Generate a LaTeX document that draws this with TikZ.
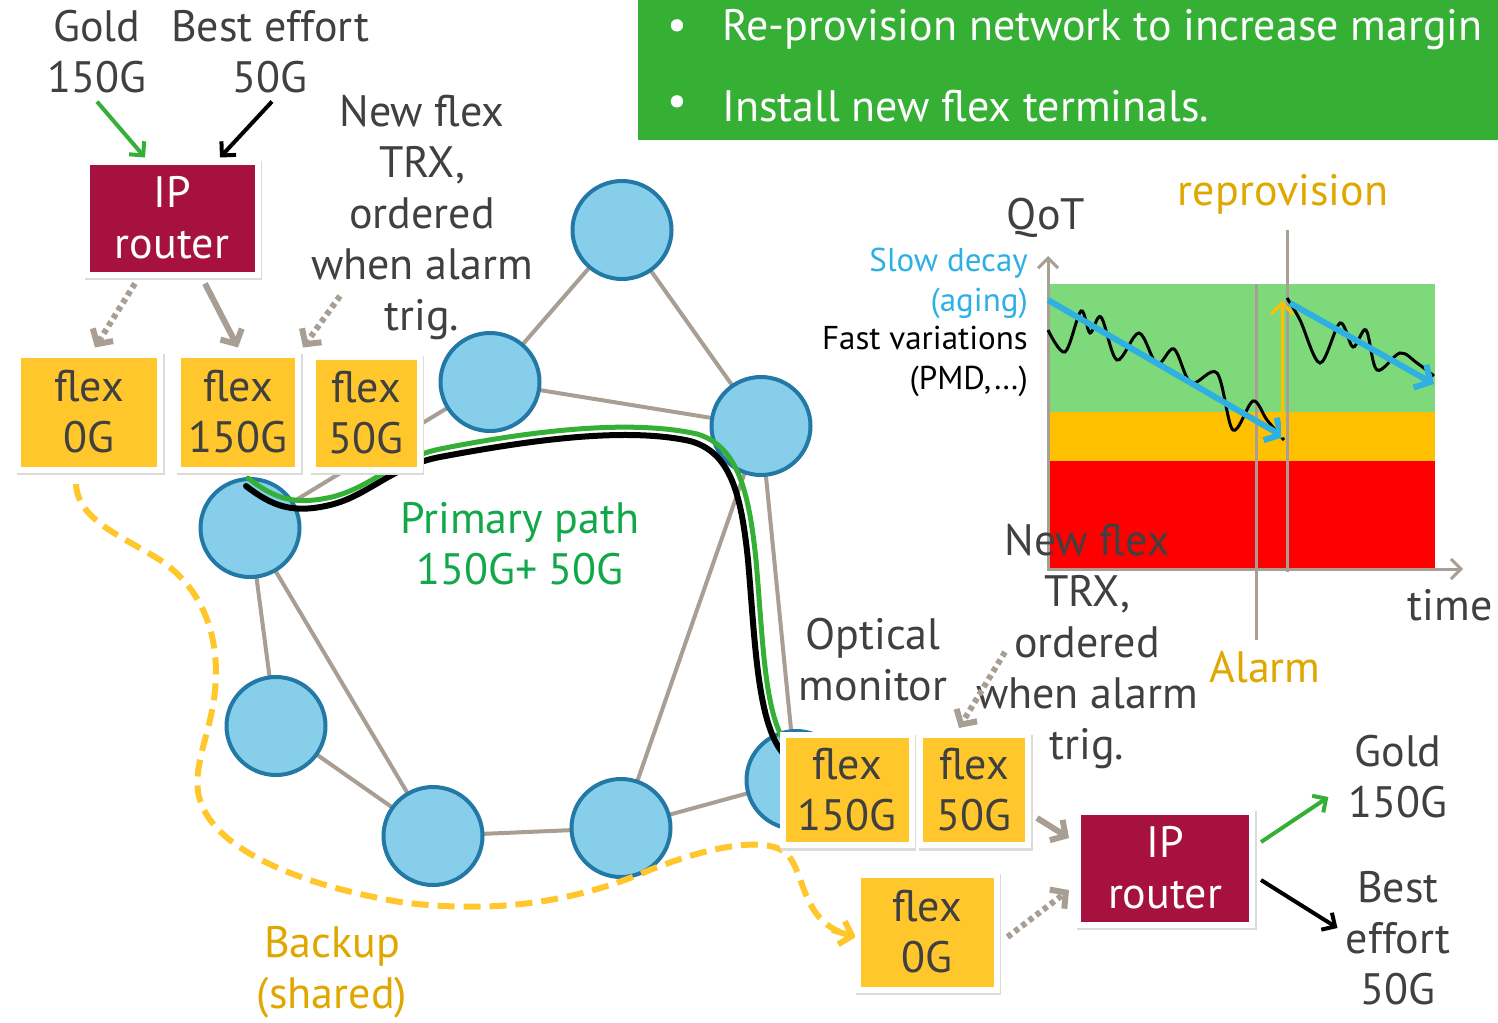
\documentclass[tikz,border=0pt]{standalone}
\usepackage{fontspec}
\setmainfont{PT Sans}
\usetikzlibrary{arrows.meta,shapes.geometric,calc,backgrounds}

\definecolor{bannergreen}{HTML}{35B035}
\definecolor{flexyellow}{HTML}{FFC72C}
\definecolor{routerred}{HTML}{A6113F}
\definecolor{nodeblue}{HTML}{87CEEB}
\definecolor{nodeborder}{HTML}{2379A6}
\definecolor{linkgray}{HTML}{A89E94}
\definecolor{txtgray}{HTML}{404040}
\definecolor{pathgreen}{HTML}{33B035}
\definecolor{golden}{HTML}{DFA700}
\definecolor{textgreen}{HTML}{12A84A}
\definecolor{skyblue}{HTML}{2EB0E3}
\definecolor{chartgreen}{HTML}{7ED97A}
\definecolor{chartorange}{HTML}{FFC000}
\definecolor{chartred}{HTML}{FF0000}

\newcommand\txtL{\fontsize{44}{51}\selectfont}
\newcommand\txtS{\fontsize{33}{40}\selectfont}

\begin{document}
\begin{tikzpicture}[x=1pt,y=-1pt,
  txt/.style={text=txtgray, font=\txtL, align=center, inner sep=0pt},
  boxbase/.style={draw=white, line width=6pt, font=\txtL, align=center, inner sep=0pt,
    preaction={fill=black!14, draw=black!14, transform canvas={shift={(1.5pt,-2.5pt)}}}},
  flexbox/.style={boxbase, fill=flexyellow, text=txtgray},
  routerbox/.style={boxbase, fill=routerred, text=white},
  netnode/.style={ellipse, draw=nodeborder, fill=nodeblue, line width=4pt,
    minimum width=99pt, minimum height=98pt, inner sep=0pt},
  link/.style={linkgray, line width=4pt},
  barb/.style={-{Straight Barb[length=11pt,width=24pt]}},
  grayarrow/.style={barb, linkgray, line width=6pt},
  dotarrow/.style={barb, linkgray, line width=6pt, dash pattern=on 5pt off 4pt},
  thinarrow/.style={-{Straight Barb[length=10pt,width=20pt]}, line width=4pt},
]
\useasboundingbox (0,0) rectangle (1498,1022);

% ---------- banner ----------
\fill[bannergreen] (638,0) rectangle (1498,140);
\node[text=white, font=\txtL, inner sep=0pt] (bulA) at (677,30) {•};
\node[text=white, font=\txtL, inner sep=0pt, anchor=west] (lineA) at (722,30) {Re-provision network to increase margin};
\node[text=white, font=\txtL, inner sep=0pt] (bulB) at (677,106) {•};
\node[text=white, font=\txtL, inner sep=0pt, anchor=west] (lineB) at (722,106) {Install new flex terminals.};

% ---------- network ----------
\node[netnode] (n1) at (622,230) {};
\node[netnode] (n2) at (490,382) {};
\node[netnode] (n3) at (761,426) {};
\node[netnode] (n4) at (250,528) {};
\node[netnode] (n5) at (276,726) {};
\node[netnode] (n6) at (433,836) {};
\node[netnode] (n7) at (621,828) {};
\node[netnode] (n8) at (796,780) {};
\begin{scope}[on background layer]
  \foreach \a/\b in {n1/n2,n1/n3,n2/n3,n2/n4,n4/n5,n4/n6,n5/n6,n6/n7,n7/n3,n7/n8,n3/n8}
    \draw[link] (\a.center) -- (\b.center);
\end{scope}

% ---------- primary path ----------
\draw[black, line width=6pt, line cap=round]
  (246,486) .. controls (272,506) and (292,514) .. (330,505)
  .. controls (368,496) and (392,466) .. (440,457)
  .. controls (520,442) and (622,426) .. (690,441)
  .. controls (730,452) and (741,492) .. (748,560)
  .. controls (755,640) and (757,720) .. (782,752);
\draw[pathgreen, line width=5pt, line cap=round]
  (248,478) .. controls (276,500) and (296,505) .. (332,497)
  .. controls (372,487) and (396,458) .. (440,449)
  .. controls (520,433) and (626,418) .. (697,434)
  .. controls (738,446) and (749,492) .. (756,560)
  .. controls (763,640) and (764,712) .. (786,744);

% ---------- backup path ----------
\draw[flexyellow, line width=6pt, dash pattern=on 17pt off 9pt]
  (76,484) .. controls (78,520) and (120,535) .. (160,560)
  .. controls (205,590) and (220,640) .. (215,690)
  .. controls (212,730) and (190,770) .. (200,800)
  .. controls (215,850) and (300,885) .. (400,902)
  .. controls (500,915) and (580,900) .. (650,870)
  .. controls (700,850) and (760,835) .. (785,852)
  .. controls (805,870) and (800,915) .. (840,932);
\draw[flexyellow, line width=6pt, -{Straight Barb[length=11pt,width=24pt]}] (832,930) -- (856,937);

% ---------- left terminal ----------
\node[txt] (goldTL) at (97,52) {Gold\\150G};
\node[txt] (bestTL) at (270,52) {Best effort\\50G};
\node[routerbox, minimum width=171pt, minimum height=113pt] (routerL) at (172,218) {IP\\router};
\node[flexbox, minimum width=142pt, minimum height=115pt] (flexZeroL) at (89,412) {flex\\0G};
\node[flexbox, minimum width=120pt, minimum height=115pt] (flexOneL) at (238,412) {flex\\150G};
\node[flexbox, minimum width=107pt, minimum height=113pt] (flexTwoL) at (366,413) {flex\\50G};
\node[txt] (trxL) at (422,217) {New flex\\TRX,\\ordered\\when alarm\\trig.};

\draw[thinarrow, pathgreen] ($(goldTL.south)+(0,8)$) -- ($(routerL.north)+(-27,-1)$);
\draw[thinarrow, black] ($(bestTL.south)+(2,8)$) -- ($(routerL.north)+(48,-1)$);
\draw[dotarrow] ($(routerL.south)+(-37,6)$) -- ($(flexZeroL.north)+(6,-4)$);
\draw[grayarrow] ($(routerL.south)+(33,6)$) -- ($(flexOneL.north)+(0,-4)$);
\coordinate (trxLtail) at (340,296);
\draw[dotarrow] (trxLtail) -- ($(flexOneL.north east)+(2,-4)$);

% ---------- primary / backup labels ----------
\node[txt, text=textgreen] (primLbl) at (520,544) {Primary path\\150G+ 50G};
\node[txt, text=golden] (backLbl) at (332,972) {Backup\\(shared)};

% ---------- QoT chart ----------
\fill[chartgreen] (1048,284) rectangle (1435,412);
\fill[chartorange] (1048,412) rectangle (1435,461);
\fill[chartred] (1048,461) rectangle (1435,569);
\draw[linkgray, line width=3pt] (1256,284) -- (1256,640);
\draw[linkgray, line width=3pt] (1287,230) -- (1287,572);
\draw[thinarrow, linkgray, line width=3pt] (1048,570) -- (1048,256);
\draw[thinarrow, linkgray, line width=3pt] (1047,569) -- (1463,569);
\draw[black, line width=3pt] plot[smooth, tension=0.55] coordinates {
  (1048,330) (1065,352) (1081,311) (1090,333) (1101,317) (1117,360) (1139,333)
  (1157,364) (1174,349) (1191,383) (1217,373) (1233,430) (1253,401) (1267,420) (1284,440)};
\draw[black, line width=3pt] plot[smooth, tension=0.55] coordinates {
  (1287,298) (1300,320) (1320,363) (1340,323) (1353,347) (1366,330) (1377,370)
  (1400,353) (1417,363) (1434,376)};
\draw[skyblue, line width=6pt, -{Straight Barb[length=12pt,width=26pt]}] (1048,300) -- (1284,437);
\draw[skyblue, line width=6pt, -{Straight Barb[length=12pt,width=26pt]}] (1290,303) -- (1434,384);
\draw[chartorange, line width=3pt, -{Straight Barb[length=11pt,width=22pt]}] (1282,437) -- (1282,301);

\node[txt] (qot) at (1046,218) {QoT};
\node[txt, text=golden] (repLbl) at (1283,194) {reprovision};
\node[txt, text=golden] (alarmLbl) at (1265,667) {Alarm};
\node[txt] (timeLbl) at (1450,605) {time};
\node[font=\txtS, text=skyblue, align=right, inner sep=0pt, anchor=east] (slowLbl) at (1028,283) {Slow decay\\(aging)};
\node[font=\txtS, text=black, align=right, inner sep=0pt, anchor=east] (fastLbl) at (1028,361) {Fast variations\\(PMD,…)};

% ---------- right terminal ----------
\node[txt] (trxR) at (1087,646) {New flex\\TRX,\\ordered\\when alarm\\trig.};
\node[txt] (optLbl) at (873,660) {Optical\\monitor};
\node[flexbox, minimum width=129pt, minimum height=110pt] (flexOneR) at (847,790) {flex\\150G};
\node[flexbox, minimum width=108pt, minimum height=110pt] (flexTwoR) at (974,790) {flex\\50G};
\node[flexbox, minimum width=139pt, minimum height=115pt] (flexZeroR) at (927,932) {flex\\0G};
\node[routerbox, minimum width=174pt, minimum height=113pt] (routerR) at (1165,868) {IP\\router};
\node[txt] (goldR) at (1398,777) {Gold\\150G};
\node[txt] (bestR) at (1398,938) {Best\\effort\\50G};

\coordinate (trxRtail) at (1005,652);
\draw[dotarrow] (trxRtail) -- ($(flexTwoR.north west)+(42,-4)$);
\draw[grayarrow] ($(flexTwoR.east)+(6,28)$) -- ($(routerR.west)+(-6,-30)$);
\draw[dotarrow] ($(flexZeroR.east)+(8,5)$) -- ($(routerR.west)+(-6,22)$);
\draw[thinarrow, pathgreen] ($(routerR.east)+(6,-26)$) -- ($(goldR.west)+(-20,20)$);
\draw[thinarrow, black] ($(routerR.east)+(6,12)$) -- ($(bestR.west)+(-8,-10)$);
\end{tikzpicture}
\end{document}
